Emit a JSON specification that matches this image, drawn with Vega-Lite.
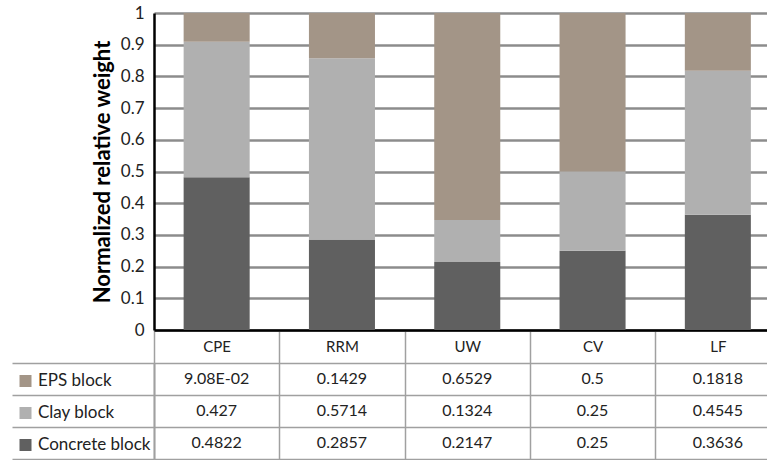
{
  "$schema": "https://vega.github.io/schema/vega-lite/v6.json",
  "padding": {"left": 11, "top": 4, "right": 0, "bottom": 0},
  "config": {
    "font": "Lato",
    "view": {"stroke": null}
  },
  "datasets": {
    "d": [
      {"cat": "CPE", "series": "Concrete block", "value": 0.4822, "shown": "0.4822"},
      {"cat": "CPE", "series": "Clay block", "value": 0.427, "shown": "0.427"},
      {"cat": "CPE", "series": "EPS block", "value": 0.0908, "shown": "9.08E-02"},
      {"cat": "RRM", "series": "Concrete block", "value": 0.2857, "shown": "0.2857"},
      {"cat": "RRM", "series": "Clay block", "value": 0.5714, "shown": "0.5714"},
      {"cat": "RRM", "series": "EPS block", "value": 0.1429, "shown": "0.1429"},
      {"cat": "UW", "series": "Concrete block", "value": 0.2147, "shown": "0.2147"},
      {"cat": "UW", "series": "Clay block", "value": 0.1324, "shown": "0.1324"},
      {"cat": "UW", "series": "EPS block", "value": 0.6529, "shown": "0.6529"},
      {"cat": "CV", "series": "Concrete block", "value": 0.25, "shown": "0.25"},
      {"cat": "CV", "series": "Clay block", "value": 0.25, "shown": "0.25"},
      {"cat": "CV", "series": "EPS block", "value": 0.5, "shown": "0.5"},
      {"cat": "LF", "series": "Concrete block", "value": 0.3636, "shown": "0.3636"},
      {"cat": "LF", "series": "Clay block", "value": 0.4545, "shown": "0.4545"},
      {"cat": "LF", "series": "EPS block", "value": 0.1818, "shown": "0.1818"}
    ]
  },
  "bounds": "flush",
  "spacing": 33,
  "resolve": {"scale": {"x": "independent", "y": "independent"}},
  "vconcat": [
    {
      "width": 613,
      "height": 317,
      "data": {"name": "d"},
      "transform": [
        {"calculate": "indexof(['Concrete block', 'Clay block', 'EPS block'], datum.series)", "as": "stackOrder"}
      ],
      "mark": {"type": "bar", "width": {"band": 0.527}},
      "encoding": {
        "x": {
          "field": "cat", "type": "nominal",
          "sort": ["CPE", "RRM", "UW", "CV", "LF"],
          "scale": {"range": [0, 626.5], "paddingInner": 0, "paddingOuter": 0},
          "axis": {
            "title": null, "orient": "bottom", "labelAngle": 0,
            "labelFontSize": 15, "labelColor": "#222", "labelPadding": -24,
            "tickBand": "extent", "tickSize": 33, "tickColor": "#a0a0a0", "tickWidth": 1.5,
            "domain": true, "domainColor": "#000", "domainWidth": 2.5, "grid": false
          }
        },
        "y": {
          "field": "value", "type": "quantitative", "stack": "zero",
          "scale": {"domain": [0, 1], "nice": false},
          "axis": {
            "title": "Normalized relative weight",
            "titleFontSize": 22, "titleFontWeight": "bold", "titleColor": "#000",
            "titlePadding": 6,
            "values": [0, 0.1, 0.2, 0.3, 0.4, 0.5, 0.6, 0.7, 0.8, 0.9, 1],
            "format": "~g",
            "labelFontSize": 17, "labelColor": "#222", "labelPadding": 10,
            "ticks": false,
            "grid": true, "gridColor": "#8c8c8c", "gridWidth": 2.5,
            "domain": true, "domainColor": "#000", "domainWidth": 2.5
          }
        },
        "color": {
          "field": "series", "type": "nominal",
          "scale": {
            "domain": ["EPS block", "Clay block", "Concrete block"],
            "range": ["#a39587", "#b0b0b0", "#606060"]
          },
          "legend": {
            "orient": "none", "legendX": -137, "legendY": 352,
            "title": null, "symbolType": "square", "symbolSize": 144,
            "symbolStrokeWidth": 0, "labelFontSize": 17, "labelColor": "#222",
            "clipHeight": 32, "rowPadding": 0, "labelOffset": 4, "padding": 0
          }
        },
        "order": {"field": "stackOrder", "type": "quantitative", "sort": "ascending"}
      }
    },
    {
      "width": 613,
      "height": 96,
      "data": {"name": "d"},
      "layer": [
        {
          "mark": {"type": "text", "fontSize": 16, "color": "#222"},
          "encoding": {
            "x": {
              "field": "cat", "type": "nominal",
              "sort": ["CPE", "RRM", "UW", "CV", "LF"],
              "scale": {"range": [0, 626.5], "paddingInner": 0, "paddingOuter": 0},
              "axis": {
                "orient": "top", "title": null, "labels": false, "ticks": false, "domain": false,
                "grid": true, "tickBand": "extent", "gridColor": "#a0a0a0", "gridWidth": 1.5
              }
            },
            "y": {
              "field": "series", "type": "nominal",
              "sort": ["EPS block", "Clay block", "Concrete block"],
              "scale": {"paddingInner": 0, "paddingOuter": 0},
              "axis": {
                "title": null, "labels": false,
                "ticks": true, "tickSize": 142, "tickBand": "extent", "tickColor": "#a0a0a0", "tickWidth": 1.5,
                "grid": true, "gridColor": "#a0a0a0", "gridWidth": 1.5,
                "domain": true, "domainColor": "#a0a0a0", "domainWidth": 1.5
              }
            },
            "text": {"field": "shown"}
          }
        },
        {
          "mark": {"type": "text", "fontSize": 16, "opacity": 0},
          "encoding": {
            "x": {"field": "cat", "type": "nominal", "sort": ["CPE", "RRM", "UW", "CV", "LF"]},
            "y": {
              "field": "series", "type": "nominal",
              "sort": ["EPS block", "Clay block", "Concrete block"],
              "axis": {
                "orient": "left", "offset": 0, "title": null, "labels": false,
                "ticks": false, "grid": false,
                "domain": true, "domainColor": "#a0a0a0", "domainWidth": 1.5
              }
            },
            "text": {"field": "shown"}
          }
        }
      ],
      "resolve": {"axis": {"y": "independent"}}
    }
  ]
}
